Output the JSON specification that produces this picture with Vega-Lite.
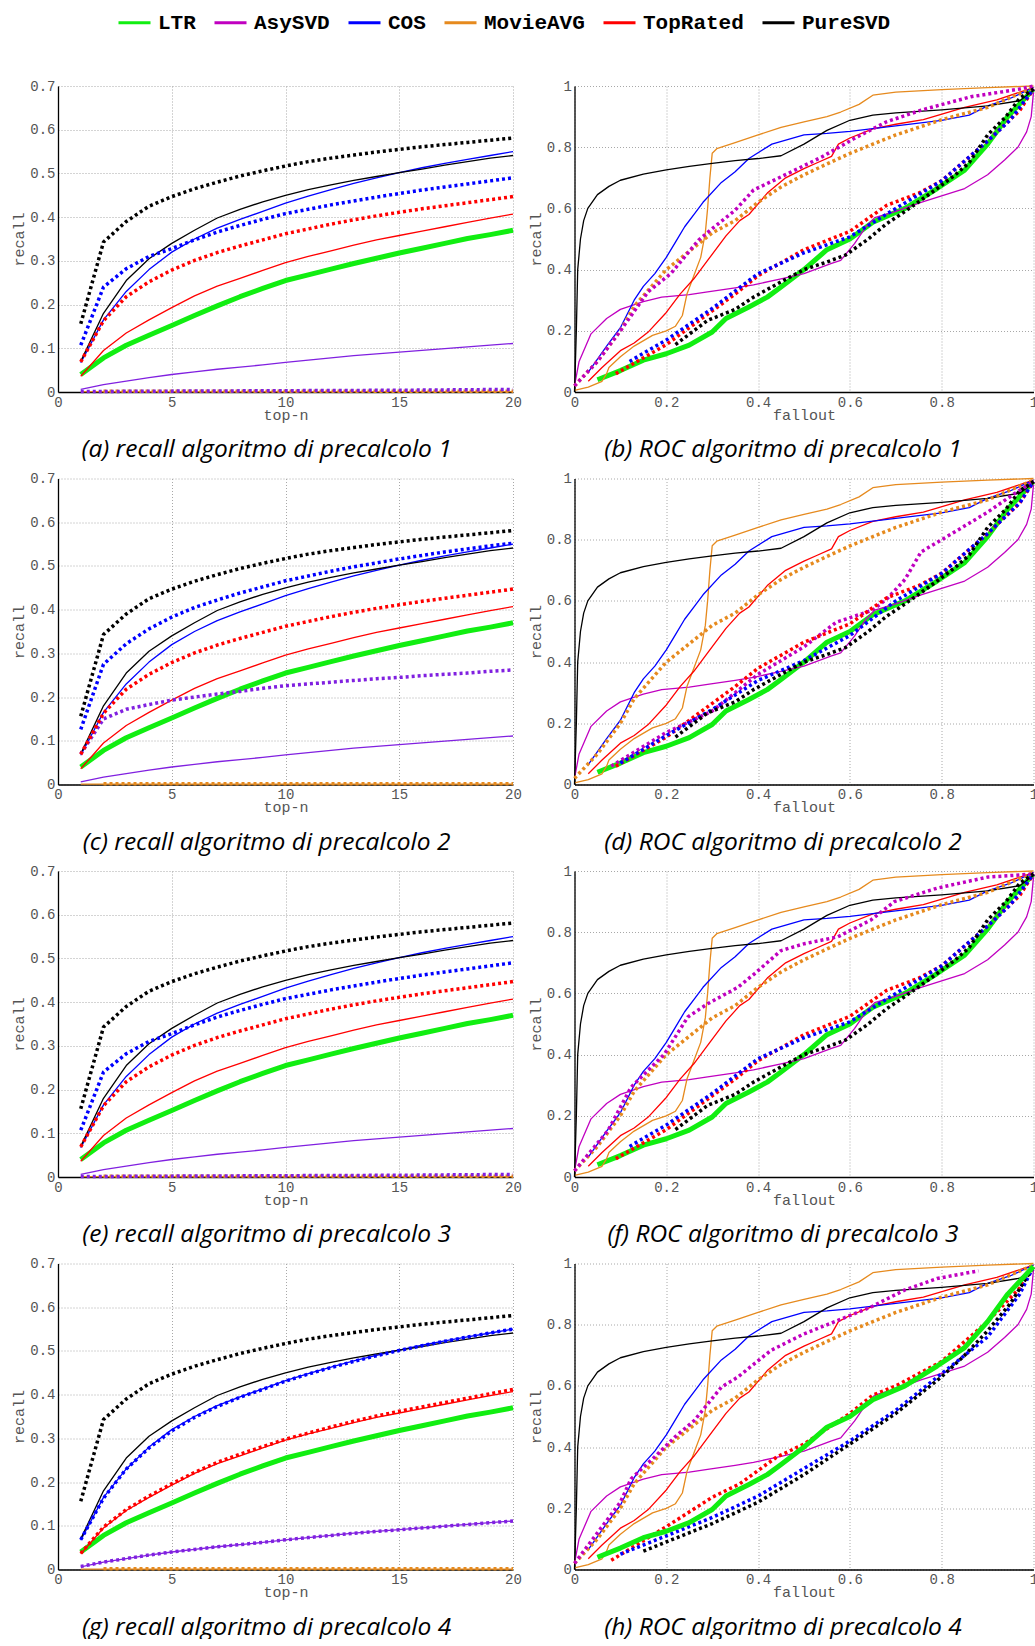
{
"$schema":"https://vega.github.io/schema/vega-lite/v6.json",
"background":"white",
"padding":{"left":11,"top":5,"right":0,"bottom":0},
"columns":2,
"spacing":{"row":86.5,"column":61.5},
"bounds":"flush",
"config":{
 "view":{"stroke":null},
 "axis":{"labelFont":"Liberation Mono","labelFontSize":14,"labelColor":"#555555","titleFont":"Liberation Mono","titleFontSize":15,"titleFontWeight":"normal","titleColor":"#555555","domainColor":"#000000","domainWidth":1.3,"ticks":false,"grid":true,"gridColor":"#a8a8a8","gridDash":[1,2],"gridWidth":1,"labelFlush":false,"labelOverlap":false,"labelPadding":3},
 "axisX":{"titlePadding":-2},
 "axisY":{"titlePadding":3},
 "title":{"orient":"bottom","anchor":"middle","frame":"bounds","font":"Open Sans","fontStyle":"italic","fontWeight":"normal","fontSize":24.5,"color":"#000000","offset":16},
 "legend":{"symbolType":"stroke","symbolSize":1024,"symbolStrokeWidth":3,"labelFont":"Liberation Mono","labelFontWeight":"bold","labelFontSize":21,"labelColor":"#000000","columnPadding":17,"labelOffset":6,"padding":0,"titlePadding":0},
 "line":{"strokeCap":"butt","strokeJoin":"round"}
},
"datasets":{
"rb":[
{"a":"LTR","x":1,"y":0.04},{"a":"LTR","x":2,"y":0.078},{"a":"LTR","x":3,"y":0.107},{"a":"LTR","x":4,"y":0.13},{"a":"LTR","x":5,"y":0.152},{"a":"LTR","x":6,"y":0.175},{"a":"LTR","x":7,"y":0.197},{"a":"LTR","x":8,"y":0.218},{"a":"LTR","x":9,"y":0.237},{"a":"LTR","x":10,"y":0.255},{"a":"LTR","x":11,"y":0.268},{"a":"LTR","x":12,"y":0.281},{"a":"LTR","x":13,"y":0.294},{"a":"LTR","x":14,"y":0.306},{"a":"LTR","x":15,"y":0.318},{"a":"LTR","x":16,"y":0.329},{"a":"LTR","x":17,"y":0.34},{"a":"LTR","x":18,"y":0.351},{"a":"LTR","x":19,"y":0.36},{"a":"LTR","x":20,"y":0.37},
{"a":"MovieAVG","x":1,"y":0.001},{"a":"MovieAVG","x":5,"y":0.001},{"a":"MovieAVG","x":10,"y":0.001},{"a":"MovieAVG","x":15,"y":0.001},{"a":"MovieAVG","x":20,"y":0.001},
{"a":"AsySVD","x":1,"y":0.006},{"a":"AsySVD","x":2,"y":0.017},{"a":"AsySVD","x":3,"y":0.025},{"a":"AsySVD","x":4,"y":0.033},{"a":"AsySVD","x":5,"y":0.04},{"a":"AsySVD","x":6,"y":0.046},{"a":"AsySVD","x":7,"y":0.052},{"a":"AsySVD","x":8,"y":0.057},{"a":"AsySVD","x":9,"y":0.062},{"a":"AsySVD","x":10,"y":0.068},{"a":"AsySVD","x":11,"y":0.073},{"a":"AsySVD","x":12,"y":0.078},{"a":"AsySVD","x":13,"y":0.083},{"a":"AsySVD","x":14,"y":0.087},{"a":"AsySVD","x":15,"y":0.091},{"a":"AsySVD","x":16,"y":0.095},{"a":"AsySVD","x":17,"y":0.099},{"a":"AsySVD","x":18,"y":0.103},{"a":"AsySVD","x":19,"y":0.107},{"a":"AsySVD","x":20,"y":0.111},
{"a":"TopRated","x":1,"y":0.036},{"a":"TopRated","x":2,"y":0.095},{"a":"TopRated","x":3,"y":0.135},{"a":"TopRated","x":4,"y":0.165},{"a":"TopRated","x":5,"y":0.193},{"a":"TopRated","x":6,"y":0.22},{"a":"TopRated","x":7,"y":0.242},{"a":"TopRated","x":8,"y":0.26},{"a":"TopRated","x":9,"y":0.278},{"a":"TopRated","x":10,"y":0.296},{"a":"TopRated","x":11,"y":0.31},{"a":"TopRated","x":12,"y":0.323},{"a":"TopRated","x":13,"y":0.336},{"a":"TopRated","x":14,"y":0.348},{"a":"TopRated","x":15,"y":0.358},{"a":"TopRated","x":16,"y":0.368},{"a":"TopRated","x":17,"y":0.378},{"a":"TopRated","x":18,"y":0.388},{"a":"TopRated","x":19,"y":0.398},{"a":"TopRated","x":20,"y":0.407},
{"a":"COS","x":1,"y":0.067},{"a":"COS","x":2,"y":0.165},{"a":"COS","x":3,"y":0.23},{"a":"COS","x":4,"y":0.28},{"a":"COS","x":5,"y":0.32},{"a":"COS","x":6,"y":0.35},{"a":"COS","x":7,"y":0.375},{"a":"COS","x":8,"y":0.395},{"a":"COS","x":9,"y":0.413},{"a":"COS","x":10,"y":0.432},{"a":"COS","x":11,"y":0.448},{"a":"COS","x":12,"y":0.463},{"a":"COS","x":13,"y":0.477},{"a":"COS","x":14,"y":0.49},{"a":"COS","x":15,"y":0.502},{"a":"COS","x":16,"y":0.513},{"a":"COS","x":17,"y":0.523},{"a":"COS","x":18,"y":0.532},{"a":"COS","x":19,"y":0.541},{"a":"COS","x":20,"y":0.55},
{"a":"PureSVD","x":1,"y":0.07},{"a":"PureSVD","x":2,"y":0.18},{"a":"PureSVD","x":3,"y":0.255},{"a":"PureSVD","x":4,"y":0.305},{"a":"PureSVD","x":5,"y":0.34},{"a":"PureSVD","x":6,"y":0.37},{"a":"PureSVD","x":7,"y":0.398},{"a":"PureSVD","x":8,"y":0.418},{"a":"PureSVD","x":9,"y":0.435},{"a":"PureSVD","x":10,"y":0.45},{"a":"PureSVD","x":11,"y":0.463},{"a":"PureSVD","x":12,"y":0.474},{"a":"PureSVD","x":13,"y":0.484},{"a":"PureSVD","x":14,"y":0.493},{"a":"PureSVD","x":15,"y":0.502},{"a":"PureSVD","x":16,"y":0.51},{"a":"PureSVD","x":17,"y":0.519},{"a":"PureSVD","x":18,"y":0.527},{"a":"PureSVD","x":19,"y":0.535},{"a":"PureSVD","x":20,"y":0.541}
],
"rv":[
{"p":"aceg","a":"MovieAVG","x":2,"y":0.002},{"p":"aceg","a":"MovieAVG","x":5,"y":0.002},{"p":"aceg","a":"MovieAVG","x":10,"y":0.002},{"p":"aceg","a":"MovieAVG","x":15,"y":0.002},{"p":"aceg","a":"MovieAVG","x":20,"y":0.002},
{"p":"ae","a":"AsySVD","x":1,"y":0.001},{"p":"ae","a":"AsySVD","x":5,"y":0.002},{"p":"ae","a":"AsySVD","x":10,"y":0.003},{"p":"ae","a":"AsySVD","x":15,"y":0.004},{"p":"ae","a":"AsySVD","x":20,"y":0.006},
{"p":"c","a":"AsySVD","x":1,"y":0.07},{"p":"c","a":"AsySVD","x":2,"y":0.15},{"p":"c","a":"AsySVD","x":3,"y":0.172},{"p":"c","a":"AsySVD","x":4,"y":0.183},{"p":"c","a":"AsySVD","x":5,"y":0.193},{"p":"c","a":"AsySVD","x":6,"y":0.2},{"p":"c","a":"AsySVD","x":7,"y":0.207},{"p":"c","a":"AsySVD","x":8,"y":0.213},{"p":"c","a":"AsySVD","x":9,"y":0.22},{"p":"c","a":"AsySVD","x":10,"y":0.226},{"p":"c","a":"AsySVD","x":11,"y":0.23},{"p":"c","a":"AsySVD","x":12,"y":0.234},{"p":"c","a":"AsySVD","x":13,"y":0.238},{"p":"c","a":"AsySVD","x":14,"y":0.242},{"p":"c","a":"AsySVD","x":15,"y":0.245},{"p":"c","a":"AsySVD","x":16,"y":0.249},{"p":"c","a":"AsySVD","x":17,"y":0.252},{"p":"c","a":"AsySVD","x":18,"y":0.255},{"p":"c","a":"AsySVD","x":19,"y":0.259},{"p":"c","a":"AsySVD","x":20,"y":0.262},
{"p":"g","a":"AsySVD","x":1,"y":0.007},{"p":"g","a":"AsySVD","x":2,"y":0.017},{"p":"g","a":"AsySVD","x":3,"y":0.025},{"p":"g","a":"AsySVD","x":4,"y":0.033},{"p":"g","a":"AsySVD","x":5,"y":0.04},{"p":"g","a":"AsySVD","x":6,"y":0.046},{"p":"g","a":"AsySVD","x":7,"y":0.052},{"p":"g","a":"AsySVD","x":8,"y":0.057},{"p":"g","a":"AsySVD","x":9,"y":0.062},{"p":"g","a":"AsySVD","x":10,"y":0.068},{"p":"g","a":"AsySVD","x":11,"y":0.073},{"p":"g","a":"AsySVD","x":12,"y":0.078},{"p":"g","a":"AsySVD","x":13,"y":0.083},{"p":"g","a":"AsySVD","x":14,"y":0.087},{"p":"g","a":"AsySVD","x":15,"y":0.091},{"p":"g","a":"AsySVD","x":16,"y":0.095},{"p":"g","a":"AsySVD","x":17,"y":0.099},{"p":"g","a":"AsySVD","x":18,"y":0.103},{"p":"g","a":"AsySVD","x":19,"y":0.107},{"p":"g","a":"AsySVD","x":20,"y":0.111},
{"p":"ace","a":"TopRated","x":1,"y":0.069},{"p":"ace","a":"TopRated","x":2,"y":0.163},{"p":"ace","a":"TopRated","x":3,"y":0.218},{"p":"ace","a":"TopRated","x":4,"y":0.252},{"p":"ace","a":"TopRated","x":5,"y":0.279},{"p":"ace","a":"TopRated","x":6,"y":0.301},{"p":"ace","a":"TopRated","x":7,"y":0.319},{"p":"ace","a":"TopRated","x":8,"y":0.334},{"p":"ace","a":"TopRated","x":9,"y":0.348},{"p":"ace","a":"TopRated","x":10,"y":0.362},{"p":"ace","a":"TopRated","x":11,"y":0.373},{"p":"ace","a":"TopRated","x":12,"y":0.384},{"p":"ace","a":"TopRated","x":13,"y":0.394},{"p":"ace","a":"TopRated","x":14,"y":0.403},{"p":"ace","a":"TopRated","x":15,"y":0.411},{"p":"ace","a":"TopRated","x":16,"y":0.419},{"p":"ace","a":"TopRated","x":17,"y":0.426},{"p":"ace","a":"TopRated","x":18,"y":0.433},{"p":"ace","a":"TopRated","x":19,"y":0.44},{"p":"ace","a":"TopRated","x":20,"y":0.447},
{"p":"g","a":"TopRated","x":1,"y":0.037},{"p":"g","a":"TopRated","x":2,"y":0.097},{"p":"g","a":"TopRated","x":3,"y":0.137},{"p":"g","a":"TopRated","x":4,"y":0.168},{"p":"g","a":"TopRated","x":5,"y":0.196},{"p":"g","a":"TopRated","x":6,"y":0.222},{"p":"g","a":"TopRated","x":7,"y":0.245},{"p":"g","a":"TopRated","x":8,"y":0.264},{"p":"g","a":"TopRated","x":9,"y":0.281},{"p":"g","a":"TopRated","x":10,"y":0.298},{"p":"g","a":"TopRated","x":11,"y":0.312},{"p":"g","a":"TopRated","x":12,"y":0.326},{"p":"g","a":"TopRated","x":13,"y":0.339},{"p":"g","a":"TopRated","x":14,"y":0.351},{"p":"g","a":"TopRated","x":15,"y":0.362},{"p":"g","a":"TopRated","x":16,"y":0.372},{"p":"g","a":"TopRated","x":17,"y":0.382},{"p":"g","a":"TopRated","x":18,"y":0.392},{"p":"g","a":"TopRated","x":19,"y":0.402},{"p":"g","a":"TopRated","x":20,"y":0.412},
{"p":"ae","a":"COS","x":1,"y":0.107},{"p":"ae","a":"COS","x":2,"y":0.24},{"p":"ae","a":"COS","x":3,"y":0.282},{"p":"ae","a":"COS","x":4,"y":0.31},{"p":"ae","a":"COS","x":5,"y":0.328},{"p":"ae","a":"COS","x":6,"y":0.348},{"p":"ae","a":"COS","x":7,"y":0.366},{"p":"ae","a":"COS","x":8,"y":0.381},{"p":"ae","a":"COS","x":9,"y":0.395},{"p":"ae","a":"COS","x":10,"y":0.408},{"p":"ae","a":"COS","x":11,"y":0.418},{"p":"ae","a":"COS","x":12,"y":0.428},{"p":"ae","a":"COS","x":13,"y":0.437},{"p":"ae","a":"COS","x":14,"y":0.446},{"p":"ae","a":"COS","x":15,"y":0.454},{"p":"ae","a":"COS","x":16,"y":0.462},{"p":"ae","a":"COS","x":17,"y":0.469},{"p":"ae","a":"COS","x":18,"y":0.476},{"p":"ae","a":"COS","x":19,"y":0.483},{"p":"ae","a":"COS","x":20,"y":0.49},
{"p":"c","a":"COS","x":1,"y":0.126},{"p":"c","a":"COS","x":2,"y":0.275},{"p":"c","a":"COS","x":3,"y":0.322},{"p":"c","a":"COS","x":4,"y":0.356},{"p":"c","a":"COS","x":5,"y":0.383},{"p":"c","a":"COS","x":6,"y":0.405},{"p":"c","a":"COS","x":7,"y":0.422},{"p":"c","a":"COS","x":8,"y":0.438},{"p":"c","a":"COS","x":9,"y":0.452},{"p":"c","a":"COS","x":10,"y":0.466},{"p":"c","a":"COS","x":11,"y":0.477},{"p":"c","a":"COS","x":12,"y":0.488},{"p":"c","a":"COS","x":13,"y":0.498},{"p":"c","a":"COS","x":14,"y":0.507},{"p":"c","a":"COS","x":15,"y":0.516},{"p":"c","a":"COS","x":16,"y":0.524},{"p":"c","a":"COS","x":17,"y":0.532},{"p":"c","a":"COS","x":18,"y":0.539},{"p":"c","a":"COS","x":19,"y":0.546},{"p":"c","a":"COS","x":20,"y":0.552},
{"p":"g","a":"COS","x":1,"y":0.068},{"p":"g","a":"COS","x":2,"y":0.163},{"p":"g","a":"COS","x":3,"y":0.23},{"p":"g","a":"COS","x":4,"y":0.278},{"p":"g","a":"COS","x":5,"y":0.317},{"p":"g","a":"COS","x":6,"y":0.348},{"p":"g","a":"COS","x":7,"y":0.373},{"p":"g","a":"COS","x":8,"y":0.394},{"p":"g","a":"COS","x":9,"y":0.412},{"p":"g","a":"COS","x":10,"y":0.431},{"p":"g","a":"COS","x":11,"y":0.447},{"p":"g","a":"COS","x":12,"y":0.462},{"p":"g","a":"COS","x":13,"y":0.476},{"p":"g","a":"COS","x":14,"y":0.489},{"p":"g","a":"COS","x":15,"y":0.501},{"p":"g","a":"COS","x":16,"y":0.512},{"p":"g","a":"COS","x":17,"y":0.522},{"p":"g","a":"COS","x":18,"y":0.532},{"p":"g","a":"COS","x":19,"y":0.541},{"p":"g","a":"COS","x":20,"y":0.55},
{"p":"aceg","a":"PureSVD","x":1,"y":0.156},{"p":"aceg","a":"PureSVD","x":2,"y":0.343},{"p":"aceg","a":"PureSVD","x":3,"y":0.39},{"p":"aceg","a":"PureSVD","x":4,"y":0.425},{"p":"aceg","a":"PureSVD","x":5,"y":0.447},{"p":"aceg","a":"PureSVD","x":6,"y":0.465},{"p":"aceg","a":"PureSVD","x":7,"y":0.48},{"p":"aceg","a":"PureSVD","x":8,"y":0.494},{"p":"aceg","a":"PureSVD","x":9,"y":0.506},{"p":"aceg","a":"PureSVD","x":10,"y":0.517},{"p":"aceg","a":"PureSVD","x":11,"y":0.527},{"p":"aceg","a":"PureSVD","x":12,"y":0.535},{"p":"aceg","a":"PureSVD","x":13,"y":0.542},{"p":"aceg","a":"PureSVD","x":14,"y":0.549},{"p":"aceg","a":"PureSVD","x":15,"y":0.555},{"p":"aceg","a":"PureSVD","x":16,"y":0.561},{"p":"aceg","a":"PureSVD","x":17,"y":0.566},{"p":"aceg","a":"PureSVD","x":18,"y":0.571},{"p":"aceg","a":"PureSVD","x":19,"y":0.576},{"p":"aceg","a":"PureSVD","x":20,"y":0.581}
],
"ob":[
{"a":"LTR","x":0.05,"y":0.04},{"a":"LTR","x":0.1,"y":0.07},{"a":"LTR","x":0.15,"y":0.104},{"a":"LTR","x":0.2,"y":0.125},{"a":"LTR","x":0.25,"y":0.153},{"a":"LTR","x":0.3,"y":0.196},{"a":"LTR","x":0.33,"y":0.24},{"a":"LTR","x":0.38,"y":0.278},{"a":"LTR","x":0.42,"y":0.31},{"a":"LTR","x":0.45,"y":0.343},{"a":"LTR","x":0.5,"y":0.4},{"a":"LTR","x":0.55,"y":0.465},{"a":"LTR","x":0.6,"y":0.5},{"a":"LTR","x":0.65,"y":0.555},{"a":"LTR","x":0.72,"y":0.6},{"a":"LTR","x":0.79,"y":0.665},{"a":"LTR","x":0.85,"y":0.725},{"a":"LTR","x":0.9,"y":0.81},{"a":"LTR","x":0.944,"y":0.9},{"a":"LTR","x":1,"y":0.99},
{"a":"AsySVD","x":0,"y":0.02},{"a":"AsySVD","x":0.01,"y":0.1},{"a":"AsySVD","x":0.036,"y":0.19},{"a":"AsySVD","x":0.07,"y":0.24},{"a":"AsySVD","x":0.1,"y":0.27},{"a":"AsySVD","x":0.15,"y":0.295},{"a":"AsySVD","x":0.19,"y":0.31},{"a":"AsySVD","x":0.25,"y":0.318},{"a":"AsySVD","x":0.29,"y":0.327},{"a":"AsySVD","x":0.35,"y":0.34},{"a":"AsySVD","x":0.39,"y":0.35},{"a":"AsySVD","x":0.45,"y":0.37},{"a":"AsySVD","x":0.5,"y":0.387},{"a":"AsySVD","x":0.56,"y":0.42},{"a":"AsySVD","x":0.58,"y":0.43},{"a":"AsySVD","x":0.61,"y":0.485},{"a":"AsySVD","x":0.635,"y":0.54},{"a":"AsySVD","x":0.654,"y":0.57},{"a":"AsySVD","x":0.7,"y":0.59},{"a":"AsySVD","x":0.755,"y":0.62},{"a":"AsySVD","x":0.85,"y":0.665},{"a":"AsySVD","x":0.9,"y":0.71},{"a":"AsySVD","x":0.937,"y":0.758},{"a":"AsySVD","x":0.966,"y":0.8},{"a":"AsySVD","x":0.985,"y":0.85},{"a":"AsySVD","x":0.995,"y":0.9},{"a":"AsySVD","x":1,"y":0.98},
{"a":"MovieAVG","x":0,"y":0.005},{"a":"MovieAVG","x":0.03,"y":0.016},{"a":"MovieAVG","x":0.06,"y":0.035},{"a":"MovieAVG","x":0.07,"y":0.06},{"a":"MovieAVG","x":0.075,"y":0.08},{"a":"MovieAVG","x":0.1,"y":0.115},{"a":"MovieAVG","x":0.13,"y":0.15},{"a":"MovieAVG","x":0.17,"y":0.185},{"a":"MovieAVG","x":0.2,"y":0.2},{"a":"MovieAVG","x":0.22,"y":0.215},{"a":"MovieAVG","x":0.235,"y":0.25},{"a":"MovieAVG","x":0.245,"y":0.32},{"a":"MovieAVG","x":0.26,"y":0.38},{"a":"MovieAVG","x":0.275,"y":0.44},{"a":"MovieAVG","x":0.285,"y":0.52},{"a":"MovieAVG","x":0.29,"y":0.6},{"a":"MovieAVG","x":0.295,"y":0.7},{"a":"MovieAVG","x":0.3,"y":0.78},{"a":"MovieAVG","x":0.31,"y":0.795},{"a":"MovieAVG","x":0.35,"y":0.815},{"a":"MovieAVG","x":0.4,"y":0.84},{"a":"MovieAVG","x":0.45,"y":0.865},{"a":"MovieAVG","x":0.5,"y":0.883},{"a":"MovieAVG","x":0.55,"y":0.9},{"a":"MovieAVG","x":0.58,"y":0.915},{"a":"MovieAVG","x":0.62,"y":0.94},{"a":"MovieAVG","x":0.65,"y":0.97},{"a":"MovieAVG","x":0.7,"y":0.98},{"a":"MovieAVG","x":0.8,"y":0.988},{"a":"MovieAVG","x":0.9,"y":0.995},{"a":"MovieAVG","x":1,"y":1},
{"a":"TopRated","x":0.03,"y":0.035},{"a":"TopRated","x":0.06,"y":0.08},{"a":"TopRated","x":0.1,"y":0.135},{"a":"TopRated","x":0.13,"y":0.16},{"a":"TopRated","x":0.16,"y":0.195},{"a":"TopRated","x":0.2,"y":0.26},{"a":"TopRated","x":0.23,"y":0.32},{"a":"TopRated","x":0.26,"y":0.37},{"a":"TopRated","x":0.29,"y":0.43},{"a":"TopRated","x":0.33,"y":0.51},{"a":"TopRated","x":0.36,"y":0.56},{"a":"TopRated","x":0.38,"y":0.58},{"a":"TopRated","x":0.42,"y":0.65},{"a":"TopRated","x":0.46,"y":0.7},{"a":"TopRated","x":0.5,"y":0.73},{"a":"TopRated","x":0.53,"y":0.75},{"a":"TopRated","x":0.56,"y":0.77},{"a":"TopRated","x":0.575,"y":0.81},{"a":"TopRated","x":0.6,"y":0.83},{"a":"TopRated","x":0.65,"y":0.86},{"a":"TopRated","x":0.7,"y":0.875},{"a":"TopRated","x":0.76,"y":0.89},{"a":"TopRated","x":0.85,"y":0.93},{"a":"TopRated","x":0.92,"y":0.955},{"a":"TopRated","x":1,"y":0.995},
{"a":"COS","x":0.03,"y":0.065},{"a":"COS","x":0.07,"y":0.15},{"a":"COS","x":0.1,"y":0.21},{"a":"COS","x":0.13,"y":0.3},{"a":"COS","x":0.15,"y":0.345},{"a":"COS","x":0.175,"y":0.387},{"a":"COS","x":0.2,"y":0.44},{"a":"COS","x":0.22,"y":0.49},{"a":"COS","x":0.24,"y":0.54},{"a":"COS","x":0.26,"y":0.58},{"a":"COS","x":0.28,"y":0.62},{"a":"COS","x":0.32,"y":0.685},{"a":"COS","x":0.35,"y":0.72},{"a":"COS","x":0.38,"y":0.763},{"a":"COS","x":0.43,"y":0.81},{"a":"COS","x":0.5,"y":0.84},{"a":"COS","x":0.55,"y":0.845},{"a":"COS","x":0.6,"y":0.852},{"a":"COS","x":0.7,"y":0.87},{"a":"COS","x":0.8,"y":0.888},{"a":"COS","x":0.86,"y":0.905},{"a":"COS","x":0.9,"y":0.935},{"a":"COS","x":0.95,"y":0.96},{"a":"COS","x":1,"y":0.995},
{"a":"PureSVD","x":0,"y":0},{"a":"PureSVD","x":0.0015,"y":0.07},{"a":"PureSVD","x":0.004,"y":0.2},{"a":"PureSVD","x":0.007,"y":0.4},{"a":"PureSVD","x":0.013,"y":0.5},{"a":"PureSVD","x":0.02,"y":0.56},{"a":"PureSVD","x":0.029,"y":0.6},{"a":"PureSVD","x":0.05,"y":0.645},{"a":"PureSVD","x":0.075,"y":0.672},{"a":"PureSVD","x":0.1,"y":0.692},{"a":"PureSVD","x":0.15,"y":0.712},{"a":"PureSVD","x":0.2,"y":0.726},{"a":"PureSVD","x":0.25,"y":0.737},{"a":"PureSVD","x":0.3,"y":0.747},{"a":"PureSVD","x":0.35,"y":0.756},{"a":"PureSVD","x":0.4,"y":0.763},{"a":"PureSVD","x":0.45,"y":0.772},{"a":"PureSVD","x":0.5,"y":0.81},{"a":"PureSVD","x":0.55,"y":0.855},{"a":"PureSVD","x":0.6,"y":0.888},{"a":"PureSVD","x":0.65,"y":0.905},{"a":"PureSVD","x":0.7,"y":0.912},{"a":"PureSVD","x":0.8,"y":0.922},{"a":"PureSVD","x":0.9,"y":0.935},{"a":"PureSVD","x":0.97,"y":0.952},{"a":"PureSVD","x":1,"y":0.985}
],
"ov":[
{"p":"bdfh","a":"MovieAVG","x":0,"y":0.02},{"p":"bdfh","a":"MovieAVG","x":0.05,"y":0.1},{"p":"bdfh","a":"MovieAVG","x":0.1,"y":0.2},{"p":"bdfh","a":"MovieAVG","x":0.13,"y":0.28},{"p":"bdfh","a":"MovieAVG","x":0.2,"y":0.4},{"p":"bdfh","a":"MovieAVG","x":0.25,"y":0.46},{"p":"bdfh","a":"MovieAVG","x":0.3,"y":0.52},{"p":"bdfh","a":"MovieAVG","x":0.35,"y":0.56},{"p":"bdfh","a":"MovieAVG","x":0.4,"y":0.62},{"p":"bdfh","a":"MovieAVG","x":0.45,"y":0.67},{"p":"bdfh","a":"MovieAVG","x":0.5,"y":0.71},{"p":"bdfh","a":"MovieAVG","x":0.6,"y":0.78},{"p":"bdfh","a":"MovieAVG","x":0.7,"y":0.84},{"p":"bdfh","a":"MovieAVG","x":0.8,"y":0.89},{"p":"bdfh","a":"MovieAVG","x":0.9,"y":0.93},{"p":"bdfh","a":"MovieAVG","x":1,"y":0.995},
{"p":"b","a":"AsySVD","x":0,"y":0.02},{"p":"b","a":"AsySVD","x":0.05,"y":0.1},{"p":"b","a":"AsySVD","x":0.1,"y":0.2},{"p":"b","a":"AsySVD","x":0.16,"y":0.327},{"p":"b","a":"AsySVD","x":0.21,"y":0.387},{"p":"b","a":"AsySVD","x":0.27,"y":0.496},{"p":"b","a":"AsySVD","x":0.305,"y":0.54},{"p":"b","a":"AsySVD","x":0.35,"y":0.594},{"p":"b","a":"AsySVD","x":0.39,"y":0.66},{"p":"b","a":"AsySVD","x":0.465,"y":0.714},{"p":"b","a":"AsySVD","x":0.54,"y":0.769},{"p":"b","a":"AsySVD","x":0.61,"y":0.829},{"p":"b","a":"AsySVD","x":0.68,"y":0.883},{"p":"b","a":"AsySVD","x":0.755,"y":0.921},{"p":"b","a":"AsySVD","x":0.864,"y":0.965},{"p":"b","a":"AsySVD","x":0.97,"y":0.99},{"p":"b","a":"AsySVD","x":1,"y":1},
{"p":"d","a":"AsySVD","x":0.08,"y":0.06},{"p":"d","a":"AsySVD","x":0.2,"y":0.17},{"p":"d","a":"AsySVD","x":0.3,"y":0.24},{"p":"d","a":"AsySVD","x":0.4,"y":0.36},{"p":"d","a":"AsySVD","x":0.5,"y":0.45},{"p":"d","a":"AsySVD","x":0.57,"y":0.53},{"p":"d","a":"AsySVD","x":0.65,"y":0.57},{"p":"d","a":"AsySVD","x":0.683,"y":0.61},{"p":"d","a":"AsySVD","x":0.72,"y":0.67},{"p":"d","a":"AsySVD","x":0.755,"y":0.76},{"p":"d","a":"AsySVD","x":0.828,"y":0.825},{"p":"d","a":"AsySVD","x":0.9,"y":0.89},{"p":"d","a":"AsySVD","x":0.958,"y":0.95},{"p":"d","a":"AsySVD","x":1,"y":0.99},
{"p":"f","a":"AsySVD","x":0,"y":0.02},{"p":"f","a":"AsySVD","x":0.073,"y":0.152},{"p":"f","a":"AsySVD","x":0.123,"y":0.293},{"p":"f","a":"AsySVD","x":0.196,"y":0.402},{"p":"f","a":"AsySVD","x":0.247,"y":0.523},{"p":"f","a":"AsySVD","x":0.29,"y":0.566},{"p":"f","a":"AsySVD","x":0.356,"y":0.62},{"p":"f","a":"AsySVD","x":0.392,"y":0.664},{"p":"f","a":"AsySVD","x":0.45,"y":0.74},{"p":"f","a":"AsySVD","x":0.5,"y":0.762},{"p":"f","a":"AsySVD","x":0.574,"y":0.785},{"p":"f","a":"AsySVD","x":0.646,"y":0.84},{"p":"f","a":"AsySVD","x":0.697,"y":0.9},{"p":"f","a":"AsySVD","x":0.79,"y":0.944},{"p":"f","a":"AsySVD","x":0.9,"y":0.98},{"p":"f","a":"AsySVD","x":1,"y":0.99},
{"p":"h","a":"AsySVD","x":0,"y":0.02},{"p":"h","a":"AsySVD","x":0.05,"y":0.12},{"p":"h","a":"AsySVD","x":0.1,"y":0.22},{"p":"h","a":"AsySVD","x":0.123,"y":0.296},{"p":"h","a":"AsySVD","x":0.174,"y":0.367},{"p":"h","a":"AsySVD","x":0.218,"y":0.432},{"p":"h","a":"AsySVD","x":0.261,"y":0.487},{"p":"h","a":"AsySVD","x":0.32,"y":0.596},{"p":"h","a":"AsySVD","x":0.356,"y":0.629},{"p":"h","a":"AsySVD","x":0.428,"y":0.716},{"p":"h","a":"AsySVD","x":0.5,"y":0.77},{"p":"h","a":"AsySVD","x":0.574,"y":0.814},{"p":"h","a":"AsySVD","x":0.646,"y":0.858},{"p":"h","a":"AsySVD","x":0.719,"y":0.913},{"p":"h","a":"AsySVD","x":0.79,"y":0.951},{"p":"h","a":"AsySVD","x":0.88,"y":0.976},
{"p":"bdf","a":"TopRated","x":0.09,"y":0.06},{"p":"bdf","a":"TopRated","x":0.2,"y":0.155},{"p":"bdf","a":"TopRated","x":0.3,"y":0.265},{"p":"bdf","a":"TopRated","x":0.35,"y":0.32},{"p":"bdf","a":"TopRated","x":0.4,"y":0.38},{"p":"bdf","a":"TopRated","x":0.5,"y":0.465},{"p":"bdf","a":"TopRated","x":0.6,"y":0.525},{"p":"bdf","a":"TopRated","x":0.68,"y":0.61},{"p":"bdf","a":"TopRated","x":0.75,"y":0.65},{"p":"bdf","a":"TopRated","x":0.8,"y":0.69},{"p":"bdf","a":"TopRated","x":0.9,"y":0.82},{"p":"bdf","a":"TopRated","x":0.97,"y":0.92},{"p":"bdf","a":"TopRated","x":1,"y":0.99},
{"p":"h","a":"TopRated","x":0.08,"y":0.03},{"p":"h","a":"TopRated","x":0.2,"y":0.14},{"p":"h","a":"TopRated","x":0.3,"y":0.236},{"p":"h","a":"TopRated","x":0.36,"y":0.28},{"p":"h","a":"TopRated","x":0.44,"y":0.367},{"p":"h","a":"TopRated","x":0.5,"y":0.41},{"p":"h","a":"TopRated","x":0.6,"y":0.51},{"p":"h","a":"TopRated","x":0.65,"y":0.57},{"p":"h","a":"TopRated","x":0.7,"y":0.6},{"p":"h","a":"TopRated","x":0.8,"y":0.68},{"p":"h","a":"TopRated","x":0.9,"y":0.81},{"p":"h","a":"TopRated","x":0.97,"y":0.92},{"p":"h","a":"TopRated","x":1,"y":0.99},
{"p":"bf","a":"COS","x":0.12,"y":0.1},{"p":"bf","a":"COS","x":0.2,"y":0.17},{"p":"bf","a":"COS","x":0.3,"y":0.273},{"p":"bf","a":"COS","x":0.4,"y":0.387},{"p":"bf","a":"COS","x":0.5,"y":0.455},{"p":"bf","a":"COS","x":0.6,"y":0.507},{"p":"bf","a":"COS","x":0.7,"y":0.6},{"p":"bf","a":"COS","x":0.8,"y":0.69},{"p":"bf","a":"COS","x":0.9,"y":0.82},{"p":"bf","a":"COS","x":0.95,"y":0.89},{"p":"bf","a":"COS","x":1,"y":0.99},
{"p":"d","a":"COS","x":0.1,"y":0.07},{"p":"d","a":"COS","x":0.2,"y":0.16},{"p":"d","a":"COS","x":0.3,"y":0.245},{"p":"d","a":"COS","x":0.4,"y":0.34},{"p":"d","a":"COS","x":0.5,"y":0.405},{"p":"d","a":"COS","x":0.6,"y":0.487},{"p":"d","a":"COS","x":0.7,"y":0.6},{"p":"d","a":"COS","x":0.8,"y":0.69},{"p":"d","a":"COS","x":0.9,"y":0.82},{"p":"d","a":"COS","x":0.97,"y":0.92},{"p":"d","a":"COS","x":1,"y":0.99},
{"p":"h","a":"COS","x":0.1,"y":0.05},{"p":"h","a":"COS","x":0.2,"y":0.11},{"p":"h","a":"COS","x":0.3,"y":0.17},{"p":"h","a":"COS","x":0.4,"y":0.24},{"p":"h","a":"COS","x":0.5,"y":0.33},{"p":"h","a":"COS","x":0.6,"y":0.42},{"p":"h","a":"COS","x":0.7,"y":0.52},{"p":"h","a":"COS","x":0.8,"y":0.64},{"p":"h","a":"COS","x":0.9,"y":0.76},{"p":"h","a":"COS","x":0.97,"y":0.9},{"p":"h","a":"COS","x":1,"y":0.99},
{"p":"bdf","a":"PureSVD","x":0.22,"y":0.155},{"p":"bdf","a":"PureSVD","x":0.29,"y":0.234},{"p":"bdf","a":"PureSVD","x":0.35,"y":0.27},{"p":"bdf","a":"PureSVD","x":0.39,"y":0.31},{"p":"bdf","a":"PureSVD","x":0.45,"y":0.36},{"p":"bdf","a":"PureSVD","x":0.5,"y":0.4},{"p":"bdf","a":"PureSVD","x":0.55,"y":0.425},{"p":"bdf","a":"PureSVD","x":0.59,"y":0.447},{"p":"bdf","a":"PureSVD","x":0.64,"y":0.5},{"p":"bdf","a":"PureSVD","x":0.68,"y":0.55},{"p":"bdf","a":"PureSVD","x":0.72,"y":0.59},{"p":"bdf","a":"PureSVD","x":0.755,"y":0.627},{"p":"bdf","a":"PureSVD","x":0.79,"y":0.665},{"p":"bdf","a":"PureSVD","x":0.83,"y":0.71},{"p":"bdf","a":"PureSVD","x":0.86,"y":0.75},{"p":"bdf","a":"PureSVD","x":0.9,"y":0.84},{"p":"bdf","a":"PureSVD","x":0.94,"y":0.9},{"p":"bdf","a":"PureSVD","x":0.97,"y":0.96},{"p":"bdf","a":"PureSVD","x":1,"y":0.99},
{"p":"h","a":"PureSVD","x":0.15,"y":0.06},{"p":"h","a":"PureSVD","x":0.2,"y":0.09},{"p":"h","a":"PureSVD","x":0.3,"y":0.15},{"p":"h","a":"PureSVD","x":0.4,"y":0.22},{"p":"h","a":"PureSVD","x":0.5,"y":0.31},{"p":"h","a":"PureSVD","x":0.6,"y":0.41},{"p":"h","a":"PureSVD","x":0.7,"y":0.51},{"p":"h","a":"PureSVD","x":0.8,"y":0.63},{"p":"h","a":"PureSVD","x":0.85,"y":0.7},{"p":"h","a":"PureSVD","x":0.9,"y":0.78},{"p":"h","a":"PureSVD","x":0.95,"y":0.87},{"p":"h","a":"PureSVD","x":1,"y":0.99}
]
},
"concat":[
{"width":455,"height":306,"title":"(a) recall algoritmo di precalcolo 1",
"encoding":{"x":{"field":"x","type":"quantitative","scale":{"domain":[0,20]},"axis":{"values":[0,5,10,15,20],"format":"~g","title":"top-n"}},"y":{"field":"y","type":"quantitative","scale":{"domain":[0,0.7]},"axis":{"values":[0,0.1,0.2,0.3,0.4,0.5,0.6,0.7],"format":"~g","title":"recall"}},"color":{"field":"a","type":"nominal","scale":{"domain":["LTR","AsySVD","COS","MovieAVG","TopRated","PureSVD"],"range":["#11ee11","#c000c0","#0000ff","#e68a1e","#ff0000","#000000"]},"legend":{"orient":"none","legendX":59,"legendY":-81,"direction":"horizontal","title":null},"condition":{"test":"datum.a==='AsySVD'","value":"#8020e0"}}},
"layer":[
{"data":{"name":"rb"},"transform":[{"filter":"datum.a==='LTR'"}],"mark":{"type":"line","strokeWidth":5}},
{"data":{"name":"rb"},"transform":[{"filter":"datum.a!=='LTR'"}],"mark":{"type":"line","strokeWidth":1.3}},
{"data":{"name":"rv"},"transform":[{"filter":"indexof(datum.p,'a')>=0"}],"mark":{"type":"line","strokeWidth":3.5,"strokeDash":[3,3]}}]},
{"width":459,"height":306,"title":"(b) ROC algoritmo di precalcolo 1",
"encoding":{"x":{"field":"x","type":"quantitative","scale":{"domain":[0,1]},"axis":{"values":[0,0.2,0.4,0.6,0.8,1],"format":"~g","title":"fallout"}},"y":{"field":"y","type":"quantitative","scale":{"domain":[0,1]},"axis":{"values":[0,0.2,0.4,0.6,0.8,1],"format":"~g","title":"recall"}},"color":{"field":"a","type":"nominal","scale":{"domain":["LTR","AsySVD","COS","MovieAVG","TopRated","PureSVD"],"range":["#11ee11","#c000c0","#0000ff","#e68a1e","#ff0000","#000000"]},"legend":{"orient":"none","legendX":59,"legendY":-81,"direction":"horizontal","title":null}}},
"layer":[
{"data":{"name":"ob"},"transform":[{"filter":"datum.a==='LTR'"}],"mark":{"type":"line","strokeWidth":5}},
{"data":{"name":"ob"},"transform":[{"filter":"datum.a!=='LTR'"}],"mark":{"type":"line","strokeWidth":1.3}},
{"data":{"name":"ov"},"transform":[{"filter":"indexof(datum.p,'b')>=0"}],"mark":{"type":"line","strokeWidth":3.5,"strokeDash":[3,3]}}]},
{"width":455,"height":306,"title":"(c) recall algoritmo di precalcolo 2",
"encoding":{"x":{"field":"x","type":"quantitative","scale":{"domain":[0,20]},"axis":{"values":[0,5,10,15,20],"format":"~g","title":"top-n"}},"y":{"field":"y","type":"quantitative","scale":{"domain":[0,0.7]},"axis":{"values":[0,0.1,0.2,0.3,0.4,0.5,0.6,0.7],"format":"~g","title":"recall"}},"color":{"field":"a","type":"nominal","scale":{"domain":["LTR","AsySVD","COS","MovieAVG","TopRated","PureSVD"],"range":["#11ee11","#c000c0","#0000ff","#e68a1e","#ff0000","#000000"]},"legend":{"orient":"none","legendX":59,"legendY":-81,"direction":"horizontal","title":null},"condition":{"test":"datum.a==='AsySVD'","value":"#8020e0"}}},
"layer":[
{"data":{"name":"rb"},"transform":[{"filter":"datum.a==='LTR'"}],"mark":{"type":"line","strokeWidth":5}},
{"data":{"name":"rb"},"transform":[{"filter":"datum.a!=='LTR'"}],"mark":{"type":"line","strokeWidth":1.3}},
{"data":{"name":"rv"},"transform":[{"filter":"indexof(datum.p,'c')>=0"}],"mark":{"type":"line","strokeWidth":3.5,"strokeDash":[3,3]}}]},
{"width":459,"height":306,"title":"(d) ROC algoritmo di precalcolo 2",
"encoding":{"x":{"field":"x","type":"quantitative","scale":{"domain":[0,1]},"axis":{"values":[0,0.2,0.4,0.6,0.8,1],"format":"~g","title":"fallout"}},"y":{"field":"y","type":"quantitative","scale":{"domain":[0,1]},"axis":{"values":[0,0.2,0.4,0.6,0.8,1],"format":"~g","title":"recall"}},"color":{"field":"a","type":"nominal","scale":{"domain":["LTR","AsySVD","COS","MovieAVG","TopRated","PureSVD"],"range":["#11ee11","#c000c0","#0000ff","#e68a1e","#ff0000","#000000"]},"legend":{"orient":"none","legendX":59,"legendY":-81,"direction":"horizontal","title":null}}},
"layer":[
{"data":{"name":"ob"},"transform":[{"filter":"datum.a==='LTR'"}],"mark":{"type":"line","strokeWidth":5}},
{"data":{"name":"ob"},"transform":[{"filter":"datum.a!=='LTR'"}],"mark":{"type":"line","strokeWidth":1.3}},
{"data":{"name":"ov"},"transform":[{"filter":"indexof(datum.p,'d')>=0"}],"mark":{"type":"line","strokeWidth":3.5,"strokeDash":[3,3]}}]},
{"width":455,"height":306,"title":"(e) recall algoritmo di precalcolo 3",
"encoding":{"x":{"field":"x","type":"quantitative","scale":{"domain":[0,20]},"axis":{"values":[0,5,10,15,20],"format":"~g","title":"top-n"}},"y":{"field":"y","type":"quantitative","scale":{"domain":[0,0.7]},"axis":{"values":[0,0.1,0.2,0.3,0.4,0.5,0.6,0.7],"format":"~g","title":"recall"}},"color":{"field":"a","type":"nominal","scale":{"domain":["LTR","AsySVD","COS","MovieAVG","TopRated","PureSVD"],"range":["#11ee11","#c000c0","#0000ff","#e68a1e","#ff0000","#000000"]},"legend":{"orient":"none","legendX":59,"legendY":-81,"direction":"horizontal","title":null},"condition":{"test":"datum.a==='AsySVD'","value":"#8020e0"}}},
"layer":[
{"data":{"name":"rb"},"transform":[{"filter":"datum.a==='LTR'"}],"mark":{"type":"line","strokeWidth":5}},
{"data":{"name":"rb"},"transform":[{"filter":"datum.a!=='LTR'"}],"mark":{"type":"line","strokeWidth":1.3}},
{"data":{"name":"rv"},"transform":[{"filter":"indexof(datum.p,'e')>=0"}],"mark":{"type":"line","strokeWidth":3.5,"strokeDash":[3,3]}}]},
{"width":459,"height":306,"title":"(f) ROC algoritmo di precalcolo 3",
"encoding":{"x":{"field":"x","type":"quantitative","scale":{"domain":[0,1]},"axis":{"values":[0,0.2,0.4,0.6,0.8,1],"format":"~g","title":"fallout"}},"y":{"field":"y","type":"quantitative","scale":{"domain":[0,1]},"axis":{"values":[0,0.2,0.4,0.6,0.8,1],"format":"~g","title":"recall"}},"color":{"field":"a","type":"nominal","scale":{"domain":["LTR","AsySVD","COS","MovieAVG","TopRated","PureSVD"],"range":["#11ee11","#c000c0","#0000ff","#e68a1e","#ff0000","#000000"]},"legend":{"orient":"none","legendX":59,"legendY":-81,"direction":"horizontal","title":null}}},
"layer":[
{"data":{"name":"ob"},"transform":[{"filter":"datum.a==='LTR'"}],"mark":{"type":"line","strokeWidth":5}},
{"data":{"name":"ob"},"transform":[{"filter":"datum.a!=='LTR'"}],"mark":{"type":"line","strokeWidth":1.3}},
{"data":{"name":"ov"},"transform":[{"filter":"indexof(datum.p,'f')>=0"}],"mark":{"type":"line","strokeWidth":3.5,"strokeDash":[3,3]}}]},
{"width":455,"height":306,"title":"(g) recall algoritmo di precalcolo 4",
"encoding":{"x":{"field":"x","type":"quantitative","scale":{"domain":[0,20]},"axis":{"values":[0,5,10,15,20],"format":"~g","title":"top-n"}},"y":{"field":"y","type":"quantitative","scale":{"domain":[0,0.7]},"axis":{"values":[0,0.1,0.2,0.3,0.4,0.5,0.6,0.7],"format":"~g","title":"recall"}},"color":{"field":"a","type":"nominal","scale":{"domain":["LTR","AsySVD","COS","MovieAVG","TopRated","PureSVD"],"range":["#11ee11","#c000c0","#0000ff","#e68a1e","#ff0000","#000000"]},"legend":{"orient":"none","legendX":59,"legendY":-81,"direction":"horizontal","title":null},"condition":{"test":"datum.a==='AsySVD'","value":"#8020e0"}}},
"layer":[
{"data":{"name":"rb"},"transform":[{"filter":"datum.a==='LTR'"}],"mark":{"type":"line","strokeWidth":5}},
{"data":{"name":"rb"},"transform":[{"filter":"datum.a!=='LTR'"}],"mark":{"type":"line","strokeWidth":1.3}},
{"data":{"name":"rv"},"transform":[{"filter":"indexof(datum.p,'g')>=0"}],"mark":{"type":"line","strokeWidth":3.5,"strokeDash":[3,3]}}]},
{"width":459,"height":306,"title":"(h) ROC algoritmo di precalcolo 4",
"encoding":{"x":{"field":"x","type":"quantitative","scale":{"domain":[0,1]},"axis":{"values":[0,0.2,0.4,0.6,0.8,1],"format":"~g","title":"fallout"}},"y":{"field":"y","type":"quantitative","scale":{"domain":[0,1]},"axis":{"values":[0,0.2,0.4,0.6,0.8,1],"format":"~g","title":"recall"}},"color":{"field":"a","type":"nominal","scale":{"domain":["LTR","AsySVD","COS","MovieAVG","TopRated","PureSVD"],"range":["#11ee11","#c000c0","#0000ff","#e68a1e","#ff0000","#000000"]},"legend":{"orient":"none","legendX":59,"legendY":-81,"direction":"horizontal","title":null}}},
"layer":[
{"data":{"name":"ob"},"transform":[{"filter":"datum.a!=='LTR'"}],"mark":{"type":"line","strokeWidth":1.3}},
{"data":{"name":"ov"},"transform":[{"filter":"indexof(datum.p,'h')>=0"}],"mark":{"type":"line","strokeWidth":3.5,"strokeDash":[3,3]}},
{"data":{"name":"ob"},"transform":[{"filter":"datum.a==='LTR'"}],"mark":{"type":"line","strokeWidth":5}}]}
]
}
